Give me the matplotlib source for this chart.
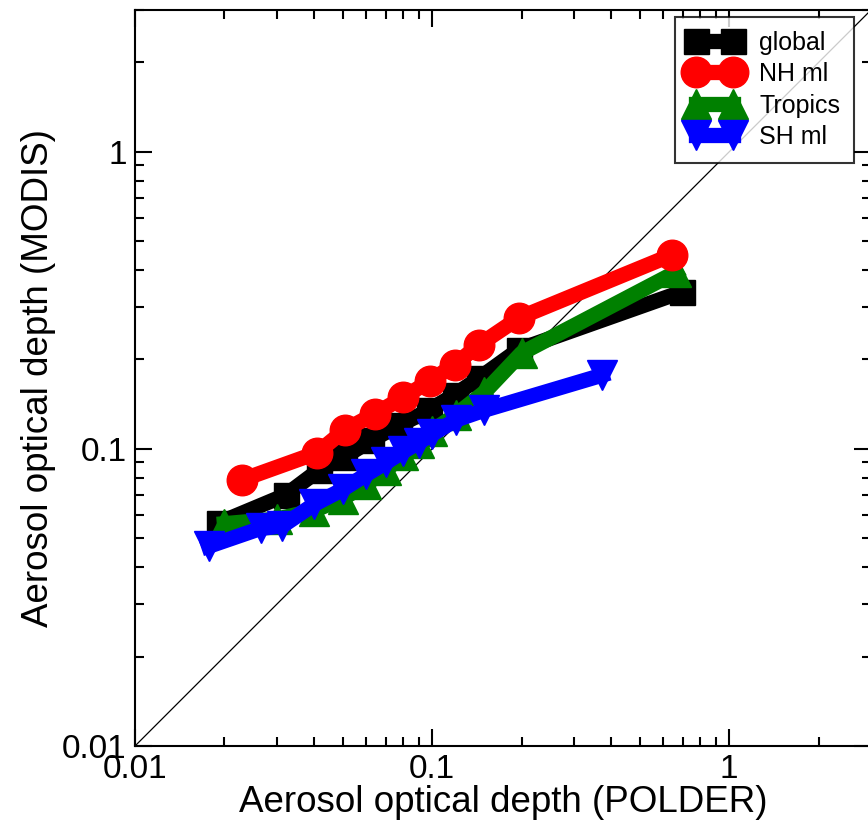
import matplotlib
matplotlib.use("Agg")
import matplotlib.pyplot as plt
from matplotlib.ticker import LogLocator, FixedLocator, FixedFormatter, NullFormatter

plt.rcParams['font.family'] = ['Liberation Sans', 'DejaVu Sans']

# Global
global_x = [0.0192, 0.0322, 0.0417, 0.0506, 0.0625, 0.0774, 0.0977, 0.119, 0.144, 0.196, 0.695]
global_y = [0.0564, 0.0700, 0.085, 0.094, 0.107, 0.120, 0.135, 0.152, 0.173, 0.216, 0.338]
# NH mid-latitudes
nh_x = [0.0229, 0.041, 0.051, 0.064, 0.080, 0.098, 0.119, 0.144, 0.196, 0.643]
nh_y = [0.0787, 0.097, 0.116, 0.131, 0.149, 0.169, 0.192, 0.224, 0.276, 0.45]
# Tropics
tr_x = [0.020, 0.030, 0.040, 0.050, 0.060, 0.070, 0.080, 0.090, 0.100, 0.120, 0.150, 0.200, 0.664]
tr_y = [0.056, 0.058, 0.062, 0.068, 0.076, 0.085, 0.095, 0.105, 0.115, 0.130, 0.155, 0.210, 0.394]
# SH mid-latitudes
sh_x = [0.0177, 0.0265, 0.0313, 0.040, 0.050, 0.060, 0.070, 0.080, 0.090, 0.100, 0.120, 0.150, 0.373]
sh_y = [0.047, 0.054, 0.055, 0.065, 0.073, 0.082, 0.090, 0.098, 0.105, 0.112, 0.125, 0.135, 0.177]

labels = ["global", "NH ml", "Tropics", "SH ml"]
xlim = (0.01, 3.0)
ylim = (0.01, 3.0)
major_ticks = [0.01, 0.1, 1]
major_labels = ["0.01", "0.1", "1"]

fig = plt.figure(figsize=(8.68, 8.33), dpi=100)
ax = fig.add_axes([135/868, 87/833, 736/868, 736/833])

ax.plot(xlim, ylim, color='black', lw=0.9, zorder=1)

lw = 11
ax.plot(global_x, global_y, color='black', marker='s', ms=18, lw=lw, label=labels[0], zorder=2)
ax.plot(nh_x, nh_y, color='#ff0000', marker='o', ms=22, lw=lw, label=labels[1], zorder=3)
ax.plot(tr_x, tr_y, color='#008000', marker='^', ms=22, lw=lw, label=labels[2], zorder=2.5)
ax.plot(sh_x, sh_y, color='#0000ff', marker='v', ms=22, lw=lw, label=labels[3], zorder=4)

ax.set_xscale('log')
ax.set_yscale('log')
ax.set_xlim(*xlim)
ax.set_ylim(*ylim)

for axis in (ax.xaxis, ax.yaxis):
    axis.set_major_locator(FixedLocator(major_ticks))
    axis.set_major_formatter(FixedFormatter(major_labels))
    axis.set_minor_locator(LogLocator(base=10, subs=range(2, 10)))
    axis.set_minor_formatter(NullFormatter())

ax.tick_params(which='both', direction='in', top=True, right=True, width=1.5)
ax.tick_params(which='major', length=12, labelsize=24, pad=6)
ax.tick_params(which='minor', length=6.5)
for s in ax.spines.values():
    s.set_linewidth(1.5)

ax.set_xlabel("Aerosol optical depth (POLDER)", fontsize=26.5, labelpad=0)
ax.set_ylabel("Aerosol optical depth (MODIS)", fontsize=26.5, labelpad=4)

leg = ax.legend(loc='upper left', bbox_to_anchor=(0.734, 0.9905), fontsize=18,
                numpoints=2, handlelength=2.08, markerscale=1.0, frameon=True,
                fancybox=False, edgecolor='black', borderpad=0.55, labelspacing=0.3,
                handletextpad=0.74, borderaxespad=0)
leg.get_frame().set_linewidth(1.5)

fig.savefig("out.png", dpi=100)
